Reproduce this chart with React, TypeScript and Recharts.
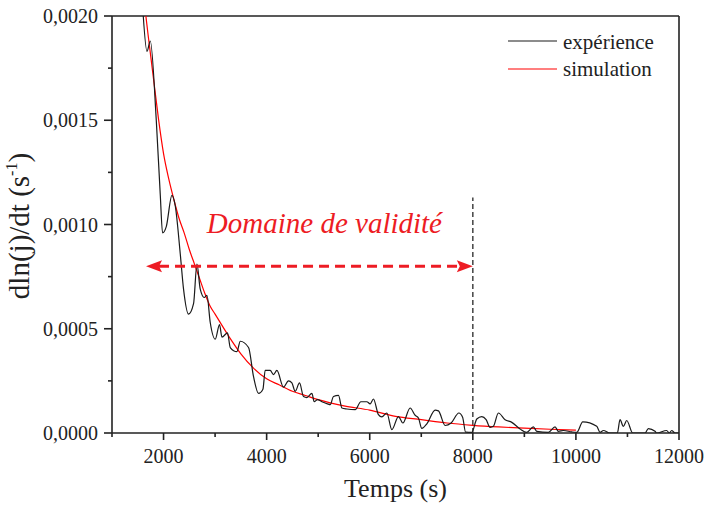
import React from 'react';
import { LineChart, Line, XAxis, YAxis, ReferenceLine, Customized } from 'recharts';

// Experimental curve (time in s, dln(j)/dt in s^-1)
const expTimes = [
  1593, 1679, 1743, 1859, 1937, 1981, 2053, 2163, 2227, 2324,
  2388, 2485, 2582, 2648, 2712, 2790, 2842, 2906, 3003, 3086,
  3133, 3241, 3294, 3424, 3488, 3649, 3746, 3843, 3928, 3972,
  4069, 4133, 4199, 4327, 4424, 4490, 4554, 4638, 4715, 4781,
  4878, 4923, 4987, 5072, 5180, 5233, 5297, 5394, 5460, 5557,
  5718, 5828, 5944, 6008, 6072, 6169, 6235, 6332, 6429, 6557,
  6643, 6784, 6881, 6945, 7011, 7108, 7269, 7333, 7463, 7579,
  7730, 7802, 7860, 7980, 8077, 8174, 8258, 8335, 8399, 8496,
  8626, 8756, 8917, 9047, 9175, 9241, 9466, 9596, 9660, 9757,
  9919, 10016, 10133, 10404, 10468, 10532, 10662, 10804, 10856, 10920,
  10986, 11102, 11341, 11405, 11535, 11568, 11761, 11812, 11858, 11922,
  12000,
];
const expValues = [
  0.00205, 0.00183, 0.00188, 0.0015, 0.00114, 0.00096, 0.00099, 0.00114, 0.00109, 0.00086,
  0.00069, 0.00057, 0.00062, 0.00081, 0.00069, 0.00065, 0.00066, 0.00053, 0.00045, 0.00052,
  0.00046, 0.00048, 0.00041, 0.00039, 0.00044, 0.00041, 0.00027, 0.00019, 0.00021, 0.0003,
  0.0003, 0.00028, 0.0003, 0.00022, 0.00025, 0.00024, 0.0002, 0.00024, 0.000175, 0.00017,
  0.00019, 0.00015, 0.00016, 0.00015, 0.00014, 0.000136, 0.000175, 0.00018, 0.00012, 0.000115,
  0.000112, 0.00015, 0.00015, 0.00014, 0.000163, 0.000088, 0.000077, 0.000096, 0.000016, 0.000079,
  0.000048, 0.00012, 0.000085, 0.000072, 0.000022, 0.000044, 0.00011, 0.000106, 0.000036, 0.000048,
  0.000096, 0.000076, 0.000004, 0.000003, 0.000067, 0.000079, 0.000064, 0.000027, 0.000032, 0.000096,
  0.000064, 0.000051, 0.000019, 0.000003, 0.000029, 0.000008, 0.000003, 0.000029, 0.000008, 0.000012,
  0.000005, 0.000003, 0.000053, 0.000032, 0.000003, 0.000012, 0, 0, 0.000064, 0.000032,
  0.00006, 0, 0, 0.000021, 0.000008, 0, 0.000012, 0, 0.000012, 0,
  0,
];

// Simulated curve
const simTimes = [
  1600, 1700, 1800, 1900, 2000, 2100, 2200, 2300, 2400, 2500,
  2600, 2700, 2800, 2900, 3000, 3250, 3500, 3750, 4000, 4250,
  4500, 4750, 5000, 5500, 6000, 6500, 7000, 7500, 8000, 8500,
  9000, 9500, 10000,
];
const simValues = [
  0.00212, 0.00191, 0.00171, 0.00151, 0.00134, 0.00122, 0.00112, 0.00103, 0.00096, 0.00088,
  0.00081, 0.00074, 0.00067, 0.00061, 0.00057, 0.00047, 0.00038, 0.00031, 0.00026, 0.00023,
  0.0002, 0.00018, 0.00016, 0.00013, 0.00011, 0.00008, 0.000064, 0.000048, 0.000037, 0.000029,
  0.000023, 0.000018, 0.000014,
];

const xTicks = [1000, 2000, 3000, 4000, 5000, 6000, 7000, 8000, 9000, 10000, 11000, 12000];
const yTicks = [0, 0.00025, 0.0005, 0.00075, 0.001, 0.00125, 0.0015, 0.00175, 0.002];

const arrowY = 0.0008;
const arrowFrom = 1660;
const arrowTo = 8000;
const limitX = 8000;
const limitTop = 0.00113;

const FONT = "'Liberation Serif', 'Times New Roman', Times, serif";
const AXIS = '#222';
const RED = '#ed1c24';

const expData = expTimes.map((t, i) => ({ t, v: expValues[i] }));
const simData = simTimes.map((t, i) => ({ t, v: simValues[i] }));

const XTick = (props: any) => {
  const { x, y, payload } = props;
  const v = payload.value;
  const major = v % 2000 === 0;
  return (
    <g>
      <line x1={x} x2={x} y1={y} y2={y + (major ? 7 : 4)} stroke={AXIS} strokeWidth={1.6} />
      {major && (
        <text x={x} y={y + 30} textAnchor="middle" style={{ fontFamily: FONT, fontSize: 20 }} fill={AXIS}>
          {v}
        </text>
      )}
    </g>
  );
};

const YTick = (props: any) => {
  const { x, y, payload } = props;
  const v = payload.value;
  const major = Math.abs(Math.round(v / 0.0005) * 0.0005 - v) < 1e-9;
  return (
    <g>
      <line x1={x - (major ? 8 : 4)} x2={x} y1={y} y2={y} stroke={AXIS} strokeWidth={1.6} />
      {major && (
        <text x={x - 14} y={y} dy="0.35em" textAnchor="end" style={{ fontFamily: FONT, fontSize: 20 }} fill={AXIS}>
          {v.toFixed(4).replace('.', ',')}
        </text>
      )}
    </g>
  );
};

const ArrowShape = (props: any) => {
  const { x1, y1, x2, y2 } = props;
  const head = 16;
  const half = 6;
  return (
    <g>
      <line x1={x1 + head - 3} y1={y1} x2={x2 - head + 3} y2={y2} stroke={RED} strokeWidth={3} strokeDasharray="10 6" />
      <polygon points={`${x1},${y1} ${x1 + head},${y1 - half} ${x1 + head - 3},${y1} ${x1 + head},${y1 + half}`} fill={RED} />
      <polygon points={`${x2},${y2} ${x2 - head},${y2 - half} ${x2 - head + 3},${y2} ${x2 - head},${y2 + half}`} fill={RED} />
      <text x={(x1 + x2) / 2 + 15} y={y1 - 33} textAnchor="middle" style={{ fontFamily: FONT, fontSize: 29, fontStyle: 'italic' }} fill={RED}>
        Domaine de validité
      </text>
    </g>
  );
};

const Overlay = () => (
  <g style={{ fontFamily: FONT }}>
    <line x1={508} x2={557} y1={41} y2={41} stroke="#1a1a1a" strokeWidth={1.2} />
    <text x={563} y={48.5} style={{ fontFamily: FONT, fontSize: 21 }} fill={AXIS}>expérience</text>
    <line x1={508} x2={557} y1={69} y2={69} stroke="#ff0000" strokeWidth={1.2} />
    <text x={563} y={75.5} style={{ fontFamily: FONT, fontSize: 21 }} fill={AXIS}>simulation</text>
    <text x={395.5} y={497} textAnchor="middle" style={{ fontFamily: FONT, fontSize: 26 }} fill={AXIS}>Temps (s)</text>
    <text transform="rotate(-90)" x={-226} y={29} textAnchor="middle" style={{ fontFamily: FONT, fontSize: 29 }} fill={AXIS}>
      dln(j)/dt (s<tspan dy={-12} style={{ fontSize: 16 }}>-1</tspan><tspan dy={12}>)</tspan>
    </text>
  </g>
);

export default function App() {
  return (
    <div style={{ position: 'absolute', left: 0, top: 0, width: 704, height: 506, background: '#fff' }}>
      <LineChart width={704} height={506} margin={{ top: 16, right: 25, bottom: 0, left: 0 }}>
        <XAxis
          dataKey="t"
          type="number"
          domain={[1000, 12000]}
          ticks={xTicks}
          interval={0}
          allowDataOverflow
          height={73}
          tickSize={0}
          tickMargin={0}
          tickLine={false}
          tick={<XTick />}
          axisLine={{ stroke: AXIS, strokeWidth: 1.6 }}
        />
        <YAxis
          type="number"
          domain={[0, 0.002]}
          ticks={yTicks}
          interval={0}
          allowDataOverflow
          width={112}
          tickSize={0}
          tickMargin={0}
          tickLine={false}
          tick={<YTick />}
          axisLine={{ stroke: AXIS, strokeWidth: 1.6 }}
        />
        <ReferenceLine y={0.002} stroke={AXIS} strokeWidth={1.6} />
        <ReferenceLine x={12000} stroke={AXIS} strokeWidth={1.6} />
        <ReferenceLine
          segment={[{ x: limitX, y: 0 }, { x: limitX, y: limitTop }]}
          stroke="#444"
          strokeWidth={1.5}
          strokeDasharray="5 3"
        />
        <Line
          data={simData}
          dataKey="v"
          type="monotone"
          stroke="#ff0000"
          strokeWidth={1.2}
          dot={false}
          isAnimationActive={false}
        />
        <Line
          data={expData}
          dataKey="v"
          type="monotone"
          stroke="#1a1a1a"
          strokeWidth={1.2}
          dot={false}
          isAnimationActive={false}
        />
        <ReferenceLine
          segment={[{ x: arrowFrom, y: arrowY }, { x: arrowTo, y: arrowY }]}
          shape={<ArrowShape />}
        />
        <Customized component={Overlay} />
      </LineChart>
    </div>
  );
}
